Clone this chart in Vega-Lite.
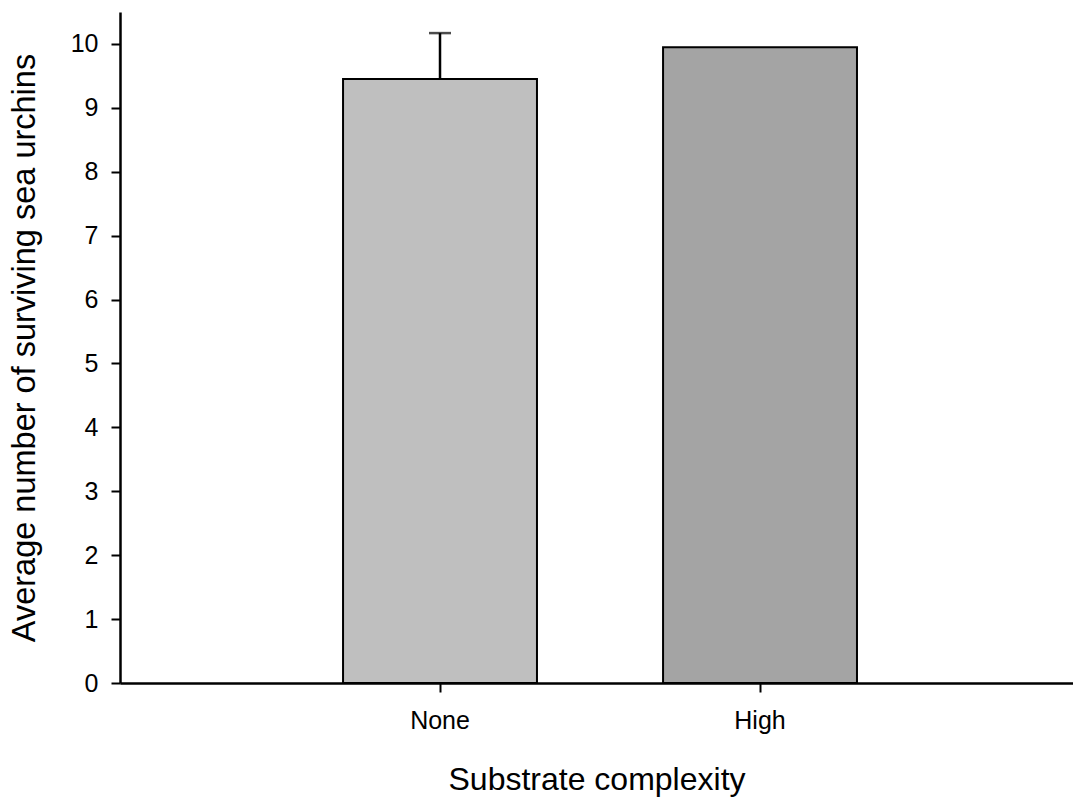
{
  "$schema": "https://vega.github.io/schema/vega-lite/v6.json",
  "autosize": "none",
  "width": 953,
  "height": 671,
  "padding": {"left": 120, "top": 12, "right": 0, "bottom": 116},
  "background": "white",
  "config": {
    "view": {"stroke": null},
    "font": "Liberation Sans",
    "axis": {
      "domainColor": "black",
      "domainWidth": 2.5,
      "tickColor": "black",
      "tickWidth": 2,
      "labelColor": "black",
      "titleColor": "black",
      "labelFont": "Liberation Sans",
      "titleFont": "Liberation Sans",
      "labelFontSize": 25,
      "titleFontWeight": "normal",
      "grid": false
    }
  },
  "data": {
    "values": [
      {"complexity": "None", "mean": 9.45, "upper": 10.17, "shade": "None"},
      {"complexity": "High", "mean": 9.95, "upper": null, "shade": "High"}
    ]
  },
  "encoding": {
    "x": {
      "field": "complexity",
      "type": "nominal",
      "sort": ["None", "High"],
      "scale": {"paddingInner": 0.394, "paddingOuter": 0.686, "align": 0.508},
      "axis": {
        "title": "Substrate complexity",
        "labelAngle": 0,
        "tickSize": 9,
        "labelPadding": 16,
        "titleFontSize": 32,
        "titlePadding": 31
      }
    }
  },
  "layer": [
    {
      "mark": {"type": "bar", "stroke": "black", "strokeWidth": 2},
      "encoding": {
        "y": {
          "field": "mean",
          "type": "quantitative",
          "scale": {"domain": [0, 10.5], "nice": false},
          "axis": {
            "title": "Average number of surviving sea urchins",
            "values": [0, 1, 2, 3, 4, 5, 6, 7, 8, 9, 10],
            "format": "d",
            "tickSize": 9,
            "labelPadding": 13,
            "titleFontSize": 32.5,
            "titlePadding": 29
          }
        },
        "fill": {
          "field": "shade",
          "type": "nominal",
          "scale": {"domain": ["None", "High"], "range": ["#bfbfbf", "#a4a4a4"]},
          "legend": null
        }
      }
    },
    {
      "transform": [{"filter": "datum.upper != null"}],
      "mark": {"type": "rule", "color": "black", "strokeWidth": 2.5},
      "encoding": {
        "y": {"field": "mean", "type": "quantitative"},
        "y2": {"field": "upper"}
      }
    },
    {
      "transform": [{"filter": "datum.upper != null"}],
      "mark": {"type": "tick", "color": "black", "thickness": 2.5, "size": 22, "orient": "horizontal"},
      "encoding": {
        "y": {"field": "upper", "type": "quantitative"}
      }
    }
  ]
}
